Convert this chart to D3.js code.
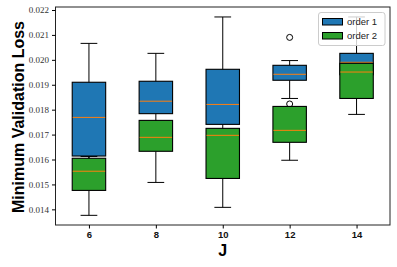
<!DOCTYPE html>
<html><head><meta charset="utf-8">
<script src="https://cdn.jsdelivr.net/npm/d3@7"></script>
<style>body{margin:0;background:#fff}svg{display:block}</style>
</head><body>
<script>
const categories = ["6","8","10","12","14"];
const yTicks = [0.014,0.015,0.016,0.017,0.018,0.019,0.020,0.021,0.022];
// order 1
const o1WhisLo = [0.0153,0.0170,0.0165,0.01845,0.0190];
const o1Q1     = [0.01614,0.01784,0.01741,0.01918,0.0194];
const o1Med    = [0.01769,0.01834,0.01821,0.01942,0.01990];
const o1Q3     = [0.01910,0.01914,0.01962,0.01978,0.02026];
const o1WhisHi = [0.02066,0.02026,0.02172,0.01997,0.02172];
const o1Fliers = [[],[],[],[0.02090,0.01823],[]];
// order 2
const o2WhisLo = [0.01376,0.01508,0.01408,0.01597,0.01781];
const o2Q1     = [0.01476,0.01633,0.01524,0.01669,0.01845];
const o2Med    = [0.01553,0.01689,0.01697,0.01717,0.01951];
const o2Q3     = [0.01605,0.01757,0.01725,0.01813,0.01986];
const o2WhisHi = [0.01612,0.01757,0.01725,0.01813,0.01986];
const o2Fliers = [[],[],[],[],[]];
const seriesNames = ["order 1","order 2"];
const seriesColors = ["#1f77b4","#2ca02c"];

const W=397,H=267;
const L=55.5,R=390,T=7,B=225;
const svg=d3.select("body").append("svg").attr("width",W).attr("height",H);
const x=d3.scaleLinear().domain([0.5,5.5]).range([L,R]);
const y=d3.scaleLinear().domain([0.013372,0.022120]).range([B,T]);
const bw=0.5, cw=0.25;
const unit=x(1)-x(0);

const series=[
 {lo:o1WhisLo,q1:o1Q1,med:o1Med,q3:o1Q3,hi:o1WhisHi,fl:o1Fliers,color:seriesColors[0]},
 {lo:o2WhisLo,q1:o2Q1,med:o2Med,q3:o2Q3,hi:o2WhisHi,fl:o2Fliers,color:seriesColors[1]}
];
const plot=svg.append("g");
series.forEach(s=>{
  const g=plot.append("g");
  categories.forEach((c,i)=>{
    const cx=x(i+1);
    const lo=y(s.lo[i]), q1=y(s.q1[i]), md=y(s.med[i]), q3=y(s.q3[i]), hi=y(s.hi[i]);
    const ln=(x1,y1,x2,y2,col)=>g.append("line").attr("x1",x1).attr("y1",y1).attr("x2",x2).attr("y2",y2).attr("stroke",col||"#000").attr("stroke-width",1);
    g.append("rect").attr("x",cx-bw*unit/2).attr("width",bw*unit)
      .attr("y",q3).attr("height",q1-q3)
      .attr("fill",s.color).attr("stroke","#000").attr("stroke-width",1.1);
    ln(cx,q1,cx,lo);
    ln(cx,q3,cx,hi);
    if(s.lo[i]<s.q1[i]) ln(cx-cw*unit/2,lo,cx+cw*unit/2,lo);
    if(s.hi[i]>s.q3[i]) ln(cx-cw*unit/2,hi,cx+cw*unit/2,hi);
    ln(cx-bw*unit/2+0.5,md,cx+bw*unit/2-0.5,md,"#ff7f0e");
    s.fl[i].forEach(v=>g.append("circle").attr("cx",cx).attr("cy",y(v)).attr("r",3).attr("fill","none").attr("stroke","#000").attr("stroke-width",1));
  });
});

// frame
svg.append("rect").attr("x",L).attr("y",T).attr("width",R-L).attr("height",B-T).attr("fill","none").attr("stroke","#222").attr("stroke-width",1);

// y axis
const ya=svg.append("g").attr("transform",`translate(${L},0)`)
  .call(d3.axisLeft(y).tickValues(yTicks).tickFormat(d3.format(".3f")).tickSize(3.5).tickPadding(3));
ya.select(".domain").remove();
ya.selectAll("text").attr("font-family","'Liberation Serif',serif").attr("font-size",9).attr("fill","#333");
// x axis
const xa=svg.append("g").attr("transform",`translate(0,${B})`)
  .call(d3.axisBottom(x).tickValues([1,2,3,4,5]).tickFormat((d,i)=>categories[i]).tickSize(3.5).tickPadding(3));
xa.select(".domain").remove();
xa.selectAll("text").attr("font-family","'Liberation Sans',Arial,sans-serif").attr("font-size",9.5).attr("font-weight","bold").attr("fill","#111");

// labels
svg.append("text").attr("transform","translate(24,117) rotate(-90)").attr("text-anchor","middle")
  .attr("font-family","'Liberation Sans',Arial,sans-serif").attr("font-weight","bold").attr("font-size",16).text("Minimum Validation Loss");
svg.append("text").attr("x",x(3)).attr("y",256).attr("text-anchor","middle")
  .attr("font-family","'Liberation Sans',Arial,sans-serif").attr("font-weight","bold").attr("font-size",16).text("J");

// legend
const lg=svg.append("g");
lg.append("rect").attr("x",318.5).attr("y",12.5).attr("width",66.5).attr("height",33).attr("rx",2.5)
  .attr("fill","#fff").attr("fill-opacity",0.8).attr("stroke","#ccc").attr("stroke-width",1);
seriesNames.forEach((n,i)=>{
  const yy=18.5+i*14;
  lg.append("rect").attr("x",322.5).attr("y",yy).attr("width",20).attr("height",6.5).attr("fill",seriesColors[i]).attr("stroke","#000").attr("stroke-width",1);
  lg.append("text").attr("x",347).attr("y",yy+6.5).attr("font-family","'Liberation Sans',Arial,sans-serif").attr("font-size",9.5).attr("fill","#222").text(n);
});
</script>
</body></html>
